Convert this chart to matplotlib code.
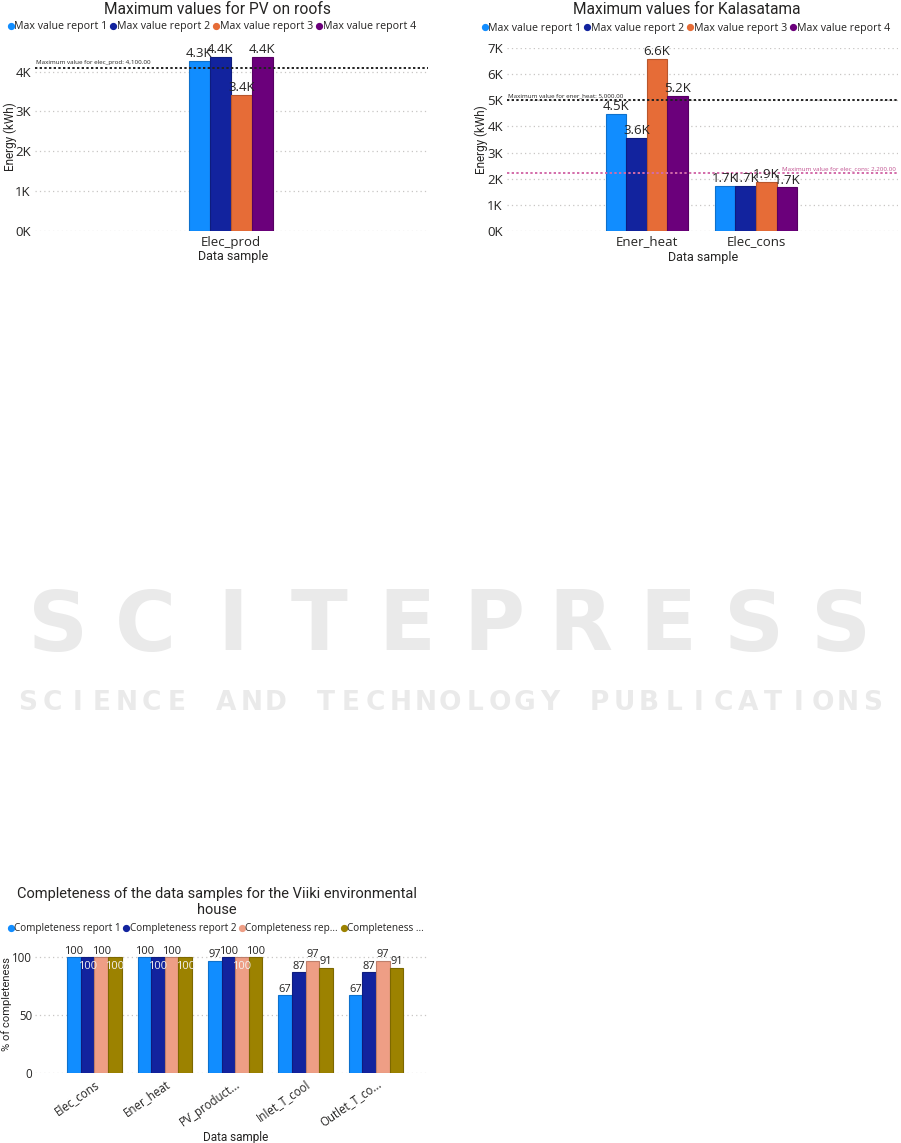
import matplotlib

matplotlib.use("Agg")
import matplotlib.pyplot as plt
import numpy as np
from matplotlib.lines import Line2D
from matplotlib.ticker import FuncFormatter

W, H = 901, 1143

# Chart 1: PV on roofs
pv_categories = ["Elec_prod"]
pv_series = ["Max value report 1", "Max value report 2", "Max value report 3", "Max value report 4"]
pv_values = [[4260], [4360], [3410], [4360]]
pv_limit = 4100
pv_limit_label = "Maximum value for elec_prod: 4,100.00"

# Chart 2: Kalasatama
kal_categories = ["Ener_heat", "Elec_cons"]
kal_series = ["Max value report 1", "Max value report 2", "Max value report 3", "Max value report 4"]
kal_values = [[4490, 1710], [3560, 1710], [6590, 1880], [5180, 1660]]
kal_heat_limit = 5000
kal_heat_label = "Maximum value for ener_heat: 5,000.00"
kal_cons_limit = 2200
kal_cons_label = "Maximum value for elec_cons: 2,200.00"

# Chart 3: Viiki completeness
viiki_categories = ["Elec_cons", "Ener_heat", "PV_product...", "Inlet_T_cool", "Outlet_T_co..."]
viiki_series = ["Completeness report 1", "Completeness report 2", "Completeness rep...", "Completeness ..."]
viiki_values = [
    [100, 100, 97, 67, 67],
    [100, 100, 100, 87, 87],
    [100, 100, 100, 97, 97],
    [100, 100, 100, 91, 91],
]

COLORS_MAX = ["#118DFF", "#12239E", "#E66C37", "#6B007B"]
COLORS_COMP = ["#118DFF", "#12239E", "#EE9E85", "#9C8200"]
TXT = "#252423"
GRID = "#C8C6C4"
LABEL_FONT = ["Open Sans", "DejaVu Sans"]
TITLE_FONT = ["Roboto", "DejaVu Sans"]


def px_axes(fig, left, top, right, bottom):
    return fig.add_axes([left / W, 1 - bottom / H, (right - left) / W, (bottom - top) / H])


def fx(x):
    return x / W


def fy(y):
    return 1 - y / H


def darker(c, f=0.8):
    rgb = np.array(matplotlib.colors.to_rgb(c)) * f
    return tuple(rgb)


def style_axes(ax, tick_size):
    for s in ax.spines.values():
        s.set_visible(False)
    ax.tick_params(length=0, labelsize=tick_size, colors=TXT)
    ax.tick_params(axis="y", pad=3)
    for lab in ax.get_yticklabels() + ax.get_xticklabels():
        lab.set_family(LABEL_FONT)
    ax.yaxis.grid(True, color=GRID, linestyle=(0, (1, 2.5)), linewidth=0.9)
    ax.set_axisbelow(True)


def draw_bars(ax, categories, values, colors, width, fmt, label_size, smart_inside=False):
    x = np.arange(len(categories))
    n = len(values)
    ymax = ax.get_ylim()[1]
    for i, (vals, col) in enumerate(zip(values, colors)):
        pos = x + (i - (n - 1) / 2) * width
        ax.bar(pos, vals, width=width, color=col, edgecolor=darker(col), linewidth=0.8, zorder=3)
    for j in range(len(categories)):
        prev_val, prev_out = None, False
        for i in range(n):
            v = values[i][j]
            p = x[j] + (i - (n - 1) / 2) * width
            # Power BI pushes a label inside when it would collide with its neighbour
            inside = smart_inside and prev_out and v == prev_val
            if inside:
                ax.text(p, v - ymax * 0.025, fmt(v), ha="center", va="top", fontsize=label_size,
                        color="#F3F2F1", family=LABEL_FONT, zorder=5)
            else:
                ax.text(p, v + ymax * 0.005, fmt(v), ha="center", va="bottom", fontsize=label_size,
                        color=TXT, family=LABEL_FONT, zorder=5)
            prev_val, prev_out = v, not inside


def add_legend(fig, series, colors, cx, cy, size):
    handles = [Line2D([], [], marker="o", linestyle="none", markersize=4.2, color=c) for c in colors]
    fig.legend(handles, series, loc="center", bbox_to_anchor=(fx(cx), fy(cy)), ncol=len(series),
               frameon=False, handlelength=0.5, handletextpad=0.1, columnspacing=0.3,
               borderpad=0, prop={"family": LABEL_FONT, "size": size}, labelcolor=TXT)


k_fmt = FuncFormatter(lambda v, _: f"{v / 1000:.0f}K")

fig = plt.figure(figsize=(W / 100, H / 100), dpi=100)
fig.patch.set_facecolor("white")

# faint publisher watermark
wm_big = "SCITEPRESS"
slot = (885 - 15) / len(wm_big)
for i, ch in enumerate(wm_big):
    fig.text(fx(15 + slot * (i + 0.5)), fy(627), ch, ha="center", va="center", fontsize=60,
             fontweight="bold", color="#EAEAEA", family="DejaVu Sans", zorder=0)
wm_small = "SCIENCE AND TECHNOLOGY PUBLICATIONS"
slot = (885 - 15) / len(wm_small)
for i, ch in enumerate(wm_small):
    fig.text(fx(15 + slot * (i + 0.5)), fy(703), ch, ha="center", va="center", fontsize=19,
             fontweight="bold", color="#EAEAEA", family="DejaVu Sans", zorder=0)

# ---- chart 1 ----
ax1 = px_axes(fig, 35, 48, 428, 230.7)
ax1.set_xlim(-1.80, 1.81)
ax1.set_ylim(0, 4595)
ax1.set_yticks(np.arange(0, 4001, 1000))
ax1.yaxis.set_major_formatter(k_fmt)
ax1.set_xticks(np.arange(len(pv_categories)))
ax1.set_xticklabels(pv_categories)
style_axes(ax1, 9.5)
draw_bars(ax1, pv_categories, pv_values, COLORS_MAX, 0.193, lambda v: f"{v / 1000:.1f}K", 9.5)
ax1.axhline(pv_limit, color="#222222", linestyle=(0, (1.2, 1.2)), linewidth=1.4, zorder=4)
ax1.text(0.003, pv_limit + 60, pv_limit_label, transform=ax1.get_yaxis_transform(),
         fontsize=4.5, color=TXT, family=LABEL_FONT, va="bottom", ha="left")
fig.text(fx(217), fy(9), "Maximum values for PV on roofs", ha="center", va="center",
         fontsize=11.2, color=TXT, family=TITLE_FONT)
add_legend(fig, pv_series, COLORS_MAX, 212, 27, 7.7)
fig.text(fx(10), fy(137), "Energy (kWh)", rotation=90, ha="center", va="center",
         fontsize=8.5, color=TXT, family=TITLE_FONT)
fig.text(fx(233), fy(257), "Data sample", ha="center", va="center",
         fontsize=9, color=TXT, family=TITLE_FONT)

# ---- chart 2 ----
ax2 = px_axes(fig, 507, 48.3, 898, 230.7)
ax2.set_xlim(-1.28, 2.30)
ax2.set_ylim(0, 7000)
ax2.set_yticks(np.arange(0, 7001, 1000))
ax2.yaxis.set_major_formatter(k_fmt)
ax2.set_xticks(np.arange(len(kal_categories)))
ax2.set_xticklabels(kal_categories)
style_axes(ax2, 9.5)
draw_bars(ax2, kal_categories, kal_values, COLORS_MAX, 0.189, lambda v: f"{v / 1000:.1f}K", 9.5)
ax2.axhline(kal_heat_limit, color="#222222", linestyle=(0, (1.2, 1.2)), linewidth=1.4, zorder=4)
ax2.text(0.003, kal_heat_limit + 80, kal_heat_label, transform=ax2.get_yaxis_transform(),
         fontsize=4.5, color=TXT, family=LABEL_FONT, va="bottom", ha="left")
ax2.axhline(kal_cons_limit, color="#D36BA9", linestyle=(0, (1.2, 1.2)), linewidth=1.4, zorder=4)
ax2.text(0.995, kal_cons_limit + 80, kal_cons_label, transform=ax2.get_yaxis_transform(),
         fontsize=4.5, color="#C0508F", family=LABEL_FONT, va="bottom", ha="right")
fig.text(fx(687), fy(9), "Maximum values for Kalasatama", ha="center", va="center",
         fontsize=11.2, color=TXT, family=TITLE_FONT)
add_legend(fig, kal_series, COLORS_MAX, 686, 28, 7.7)
fig.text(fx(481), fy(140), "Energy (kWh)", rotation=90, ha="center", va="center",
         fontsize=8.5, color=TXT, family=TITLE_FONT)
fig.text(fx(703), fy(258), "Data sample", ha="center", va="center",
         fontsize=9, color=TXT, family=TITLE_FONT)

# ---- chart 3 ----
ax3 = px_axes(fig, 35, 945, 428, 1072.7)
ax3.set_xlim(-0.845, 4.74)
ax3.set_ylim(0, 110.7)
ax3.set_yticks([0, 50, 100])
ax3.set_xticks(np.arange(len(viiki_categories)))
ax3.set_xticklabels(viiki_categories, rotation=35, ha="right", rotation_mode="anchor")
style_axes(ax3, 8.3)
ax3.tick_params(axis="y", pad=2)
draw_bars(ax3, viiki_categories, viiki_values, COLORS_COMP, 0.194, lambda v: f"{v:.0f}", 8,
          smart_inside=True)
fig.text(fx(217), fy(902), "Completeness of the data samples for the Viiki environmental\nhouse",
         ha="center", va="center", fontsize=10.5, color=TXT,
         family=TITLE_FONT, linespacing=1.1)
add_legend(fig, viiki_series, COLORS_COMP, 216, 929, 7.2)
fig.text(fx(7), fy(1004), "% of completeness", rotation=90, ha="center", va="center",
         fontsize=8, color=TXT, family=TITLE_FONT)
fig.text(fx(236), fy(1137), "Data sample", ha="center", va="center",
         fontsize=8.5, color=TXT, family=TITLE_FONT)

fig.savefig("out.png", dpi=100, facecolor="white")
